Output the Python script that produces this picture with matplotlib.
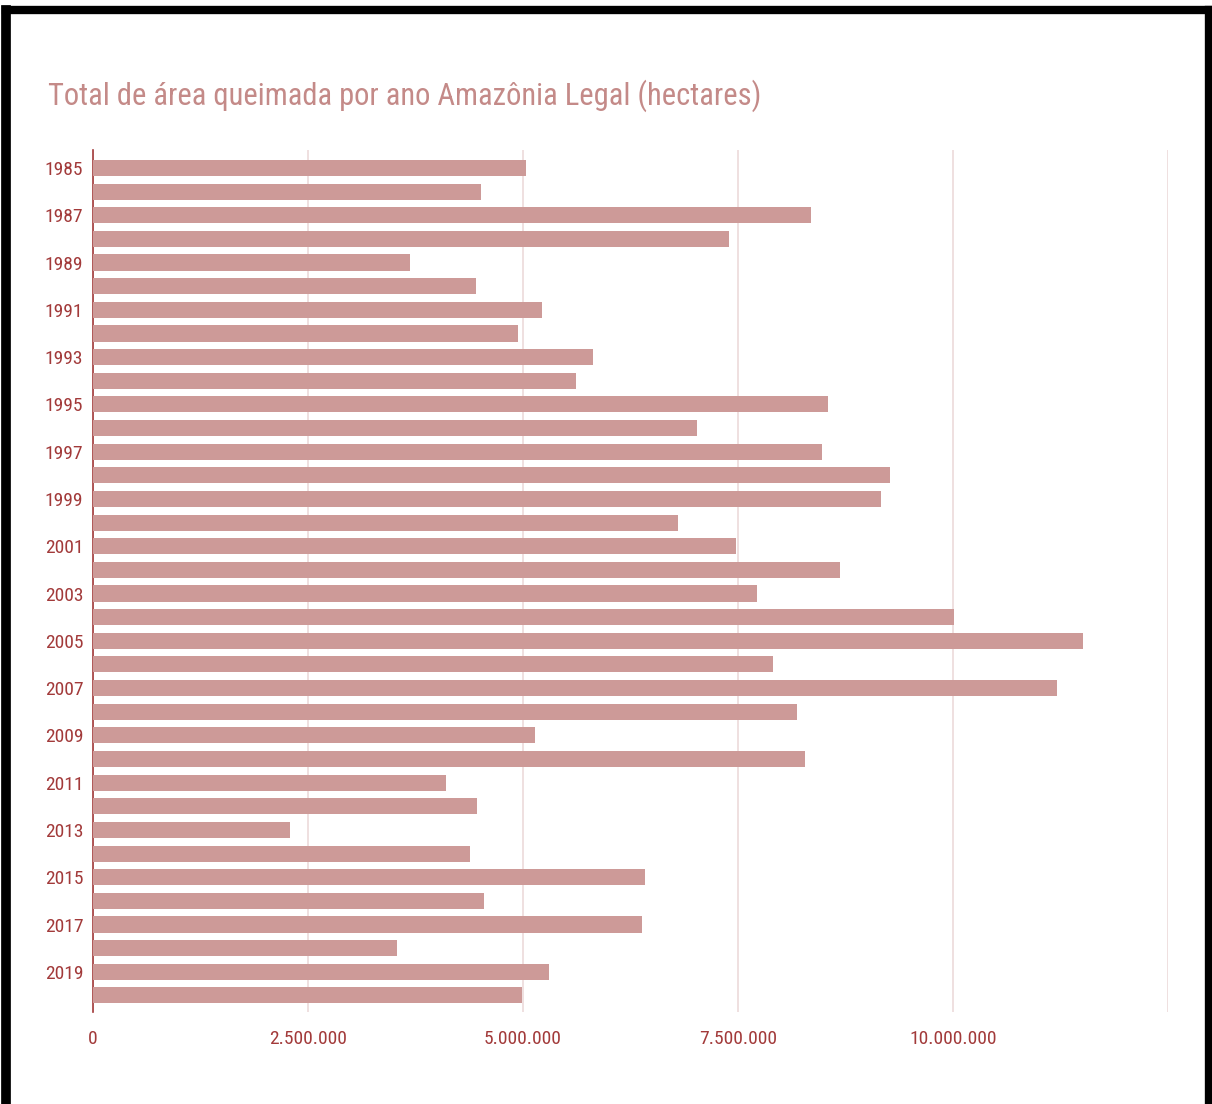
import matplotlib
matplotlib.use("Agg")
import matplotlib.pyplot as plt
from matplotlib.lines import Line2D
from matplotlib.ticker import FuncFormatter

# área queimada por ano (hectares)
anos = list(range(1985, 2021))
area = [5030000, 4510000, 8350000, 7400000, 3690000, 4450000, 5220000, 4940000,
        5810000, 5620000, 8550000, 7020000, 8480000, 9270000, 9160000, 6800000,
        7480000, 8690000, 7720000, 10010000, 11510000, 7910000, 11210000, 8190000,
        5140000, 8280000, 4100000, 4470000, 2290000, 4380000, 6420000, 4550000,
        6380000, 3530000, 5300000, 4990000]

cor_barra = "#cd9a98"
cor_texto = "#a23a3a"
cor_titulo = "#c48a88"
fonte = ["Roboto Condensed", "Archivo Narrow", "DejaVu Sans"]

fig = plt.figure(figsize=(12.12, 11.04), dpi=100)
ax = fig.add_axes([93 / 1212, 1 - 1012 / 1104, (1168 - 93) / 1212, (1012 - 150) / 1104])

pos = list(range(len(anos)))
ax.barh(pos, area, height=0.68, color=cor_barra, zorder=3)

ax.set_xlim(0, 12500000)
ax.set_ylim(len(anos) - 1 + 0.7, -0.76)
ax.set_xticks([0, 2500000, 5000000, 7500000, 10000000, 12500000])
ax.xaxis.set_major_formatter(FuncFormatter(
    lambda v, p: "" if v > 10000000 else f"{int(v):,}".replace(",", ".")))
ax.set_yticks(pos[::2])
ax.set_yticklabels([str(a) for a in anos[::2]])

ax.grid(axis="x", color="#ecdada", linewidth=1.2, zorder=0)
for s in ["top", "right", "bottom"]:
    ax.spines[s].set_visible(False)
ax.spines["left"].set_color(cor_texto)
ax.spines["left"].set_linewidth(1.2)
ax.tick_params(length=0, colors=cor_texto, labelsize=14)
ax.tick_params(axis="x", pad=13)
ax.tick_params(axis="y", pad=7)
for lbl in ax.get_xticklabels() + ax.get_yticklabels():
    lbl.set_family(fonte)

fig.text(48 / 1212, 1 - 105 / 1104, "Total de área queimada por ano Amazônia Legal (hectares)",
         color=cor_titulo, fontsize=22, family=fonte, ha="left", va="baseline")

# moldura preta
for (x0, y0, x1, y1, lw) in [(6 / 1212, 1 - 10 / 1104, 1209 / 1212, 1 - 10 / 1104, 6),
                             (6 / 1212, 1 - 10 / 1104, 6 / 1212, 0, 7),
                             (1209 / 1212, 1 - 10 / 1104, 1209 / 1212, 0, 6)]:
    fig.add_artist(Line2D([x0, x1], [y0, y1], color="black", linewidth=lw,
                          solid_capstyle="projecting", transform=fig.transFigure))

fig.savefig("out.png", dpi=100)
